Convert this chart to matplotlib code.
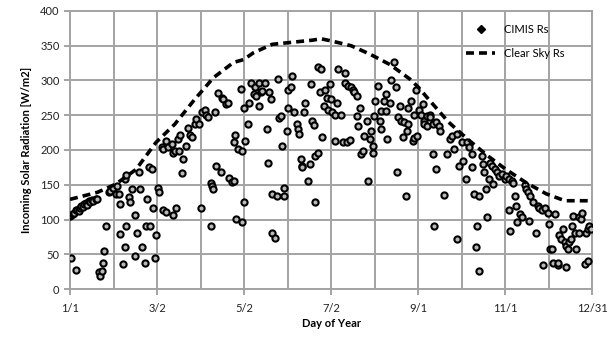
import numpy as np
import matplotlib.pyplot as plt
from matplotlib.lines import Line2D

plt.rcParams['font.family'] = ['Lato', 'DejaVu Sans']

cimis_day = [
    1, 2, 2, 3, 4, 5, 5, 6, 7, 8, 9, 10, 11, 12, 13, 14, 15, 16, 17, 19,
    20, 21, 22, 23, 24, 25, 26, 28, 29, 31, 33, 34, 35, 36, 36, 38, 39, 39, 40, 40,
    42, 43, 44, 46, 46, 48, 49, 50, 51, 53, 54, 55, 56, 57, 58, 59, 60, 61, 62, 63,
    65, 66, 66, 68, 68, 69, 72, 73, 73, 74, 75, 76, 77, 78, 79, 80, 82, 83, 85, 86,
    88, 89, 91, 92, 93, 95, 96, 97, 99, 99, 100, 101, 102, 103, 104, 106, 107, 108, 110, 111,
    112, 114, 115, 115, 116, 117, 118, 120, 121, 121, 122, 122, 123, 125, 126, 127, 129, 130, 131, 133,
    133, 134, 135, 137, 138, 139, 140, 141, 142, 142, 144, 145, 146, 147, 148, 149, 150, 150, 152, 153,
    153, 155, 156, 157, 159, 160, 161, 162, 163, 163, 164, 165, 167, 168, 169, 170, 171, 172, 172, 174,
    174, 175, 176, 177, 178, 179, 180, 181, 182, 183, 184, 186, 186, 187, 188, 190, 191, 193, 193, 194,
    195, 196, 197, 198, 199, 201, 201, 202, 203, 204, 205, 206, 208, 209, 210, 211, 212, 212, 213, 214,
    216, 217, 218, 218, 220, 221, 221, 222, 224, 225, 227, 228, 229, 230, 231, 232, 233, 234, 235, 236,
    237, 237, 239, 240, 241, 241, 242, 243, 244, 246, 247, 248, 248, 250, 250, 252, 252, 254, 254, 255,
    256, 256, 258, 259, 262, 264, 266, 267, 269, 271, 271, 272, 274, 275, 277, 278, 279, 281, 281, 283,
    284, 285, 286, 286, 288, 289, 290, 291, 292, 293, 294, 295, 296, 297, 299, 300, 302, 304, 305, 307,
    307, 308, 309, 310, 311, 312, 313, 315, 316, 318, 319, 320, 321, 322, 324, 326, 327, 328, 330, 331,
    332, 334, 335, 336, 337, 338, 339, 341, 341, 342, 343, 345, 346, 347, 347, 348, 349, 350, 351, 352,
    353, 354, 356, 356, 357, 358, 360, 361, 362, 362, 363, 364,
]
cimis_rs = [
    105, 106, 45, 108, 110, 113, 28, 114, 112, 117, 120, 118, 122, 124, 121, 127, 125, 128, 126, 130,
    130, 24, 19, 26, 38, 55, 90, 139, 141, 146, 137, 148, 137, 123, 79, 36, 60, 158, 90, 164,
    132, 125, 144, 106, 48, 81, 168, 144, 60, 38, 90, 129, 175, 91, 172, 116, 45, 77, 146, 140,
    204, 201, 113, 111, 213, 204, 208, 196, 106, 199, 116, 216, 199, 221, 167, 187, 206, 232, 221, 218,
    237, 244, 237, 116, 254, 258, 251, 248, 91, 153, 148, 144, 254, 177, 282, 169, 275, 273, 266, 268,
    160, 154, 156, 212, 221, 101, 201, 288, 97, 199, 261, 125, 213, 237, 268, 297, 280, 290, 278, 297,
    263, 283, 285, 297, 230, 181, 283, 273, 137, 81, 74, 134, 302, 246, 249, 206, 146, 134, 228, 261,
    287, 291, 306, 254, 237, 230, 223, 187, 177, 175, 254, 268, 156, 180, 295, 242, 236, 125, 192, 319,
    196, 283, 316, 218, 263, 287, 275, 258, 295, 273, 254, 251, 213, 268, 316, 251, 211, 297, 311, 212,
    292, 215, 290, 286, 283, 278, 249, 235, 261, 194, 199, 220, 242, 156, 216, 228, 206, 196, 249, 271,
    292, 242, 256, 230, 271, 256, 280, 216, 268, 301, 326, 290, 168, 247, 263, 242, 218, 240, 134, 228,
    237, 261, 271, 213, 251, 217, 287, 220, 258, 251, 266, 242, 237, 249, 235, 251, 247, 237, 194, 91,
    172, 240, 235, 228, 135, 194, 216, 220, 201, 72, 223, 177, 211, 184, 158, 211, 204, 194, 175, 137,
    60, 90, 26, 134, 192, 180, 168, 144, 103, 158, 182, 177, 151, 172, 168, 163, 165, 158, 163, 158,
    113, 84, 156, 153, 134, 120, 96, 108, 103, 149, 144, 139, 98, 134, 125, 81, 120, 116, 114, 34,
    117, 110, 93, 57, 57, 38, 108, 34, 38, 77, 72, 86, 67, 62, 31, 57, 67, 72, 91, 105,
    81, 57, 81, 103, 101, 110, 36, 81, 86, 41, 91, 86,
]

# clear sky Rs envelope
clear_day = [1, 20, 33, 47, 61, 74, 88, 101, 115, 122, 129, 142, 156, 170, 176, 183,
             197, 210, 224, 238, 244, 251, 265, 278, 292, 305, 319, 333, 346, 360, 365]
clear_rs = [129, 139, 151, 172, 211, 237, 273, 304, 326, 330, 340, 352, 355, 358, 360, 357,
            350, 338, 323, 302, 290, 273, 240, 216, 192, 172, 153, 137, 127, 127, 127]

tick_labels = ['1/1', '3/2', '5/2', '7/2', '9/1', '11/1', '12/31']

gc = '#a3a3a3'
dash = (0, (2.2, 1.4))

fig = plt.figure(figsize=(6.11, 3.43), dpi=100)
ax = fig.add_axes([0.1146, 0.1574, 0.8544, 0.8106])

ax.scatter(cimis_day, cimis_rs, s=20, marker='o', facecolor='#b8b8b8',
           edgecolor='black', linewidth=1.5, zorder=3)
ax.plot(clear_day, clear_rs, color='black', lw=2.6, ls=dash, zorder=4)

ax.set_xlim(1, 365)
ax.set_ylim(0, 400)
ax.set_xticks(np.linspace(1, 365, 7))
ax.set_xticklabels(tick_labels)
ax.set_xticks(np.linspace(1, 365, 13), minor=True)
ax.set_yticks(range(0, 401, 50))

ax.grid(which='both', color=gc, lw=1.4)
ax.set_axisbelow(True)
for s in ax.spines.values():
    s.set_color(gc)
    s.set_linewidth(1.4)
ax.tick_params(which='major', length=4, width=1.4, color=gc, labelsize=8,
               labelcolor='#222222')
ax.tick_params(axis='x', which='major', pad=6)
ax.tick_params(which='minor', length=0)

ax.set_xlabel('Day of Year', fontsize=8, fontweight='bold', labelpad=3)
ax.set_ylabel('Incoming Solar Radiation [W/m2]', fontsize=8, fontweight='bold', labelpad=6)

handles = [Line2D([], [], ls='none', marker='D', color='black', markersize=4),
           Line2D([], [], color='black', lw=2.6, ls=dash)]
ax.legend(handles, ['CIMIS Rs', 'Clear Sky Rs'], loc='upper left',
          bbox_to_anchor=(0.74, 0.99), frameon=False, fontsize=8,
          handlelength=2.6, labelspacing=1.2)

fig.savefig('out.png', dpi=100)
